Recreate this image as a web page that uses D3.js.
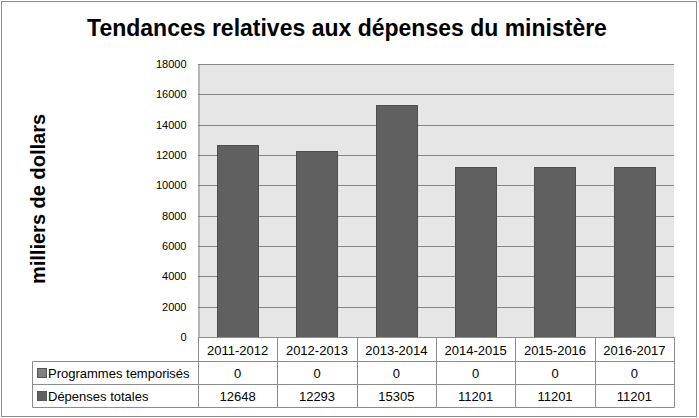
<!DOCTYPE html>
<html>
<head>
<meta charset="utf-8">
<script src="https://cdn.jsdelivr.net/npm/d3@7"></script>
<style>
body { margin:0; background:#fff; }
#c { width:699px; height:418px; }
text { font-family: "Liberation Sans", Arial, sans-serif; }
</style>
</head>
<body>
<div id="c"></div>
<script>
"use strict";

let years = ["2011-2012","2012-2013","2013-2014","2014-2015","2015-2016","2016-2017"]
let programmes = [0,0,0,0,0,0]
let depenses = [12648,12293,15305,11201,11201,11201]
let yTicks = [0,2000,4000,6000,8000,10000,12000,14000,16000,18000]
let rowNames = ["Programmes temporisés","Dépenses totales"]

window.onload = function() {
    drawChart()
}

function drawChart() {
    const W = 699, H = 418
    const plot = {left:198, right:674, top:64, bottom:337}
    const tableLeft = 32
    const rowH = 23.3

    let svg = d3.select('#c').append('svg')
        .attr('width', W).attr('height', H)

    // outer frame
    svg.append('rect')
        .attr('x',1.5).attr('y',1.5)
        .attr('width',W-4).attr('height',H-3)
        .attr('fill','#fff').attr('stroke','#8c8c8c')

    svg.append('text')
        .text('Tendances relatives aux dépenses du ministère')
        .attr('x',347).attr('y',36)
        .attr('text-anchor','middle')
        .style('font-size','23px').style('font-weight','bold')

    svg.append('text')
        .text('milliers de dollars')
        .attr('transform','translate(45,199) rotate(-90)')
        .attr('text-anchor','middle')
        .style('font-size','20px').style('font-weight','bold')

    let xScale = d3.scaleBand().domain(years).range([plot.left, plot.right])
    let yScale = d3.scaleLinear().domain([0,18000]).range([plot.bottom, plot.top])

    svg.append('rect')
        .attr('x',plot.left).attr('y',plot.top)
        .attr('width',plot.right-plot.left).attr('height',plot.bottom-plot.top)
        .attr('fill','#e6e6e6')

    // gridlines
    svg.append('g').selectAll('line')
        .data(yTicks.filter(d=>d>0))
        .enter().append('line')
            .attr('x1',plot.left).attr('x2',plot.right)
            .attr('y1',d=>Math.round(yScale(d))+0.5)
            .attr('y2',d=>Math.round(yScale(d))+0.5)
            .attr('stroke','#868686')

    // y axis
    let yAxis = svg.append('g')
        .attr('transform','translate('+(plot.left+0.5)+',0)')
        .call(d3.axisLeft(yScale).tickValues(yTicks).tickSize(0).tickPadding(12).tickFormat(d3.format('d')))
    yAxis.select('.domain').attr('stroke','#868686')
    yAxis.selectAll('text').style('font-size','11px').style('font-family','"Liberation Sans", Arial, sans-serif').attr('fill','#000')

    // bars
    let bw = xScale.bandwidth()
    svg.append('g').selectAll('rect')
        .data(depenses)
        .enter().append('rect')
            .attr('x',(d,i)=>Math.round(xScale(years[i]) + bw*0.24)+0.5)
            .attr('y',d=>Math.round(yScale(d))+0.5)
            .attr('width',Math.round(bw*0.52))
            .attr('height',d=>Math.round(plot.bottom-yScale(d)))
            .attr('fill','#606060')
            .attr('stroke','#4f4f4f')

    // data table
    let t = svg.append('g').attr('stroke','#8c8c8c').attr('fill','none')
    const y0 = plot.bottom + 0.5
    const y1 = y0 + rowH, y2 = y1 + rowH, y3 = y2 + rowH
    t.append('line').attr('x1',plot.left+0.5).attr('x2',plot.right+0.5).attr('y1',y0).attr('y2',y0)
    t.append('line').attr('x1',tableLeft+0.5).attr('x2',plot.right+0.5).attr('y1',Math.round(y1)+0.5).attr('y2',Math.round(y1)+0.5)
    t.append('line').attr('x1',tableLeft+0.5).attr('x2',plot.right+0.5).attr('y1',Math.round(y2)+0.5).attr('y2',Math.round(y2)+0.5)
    t.append('line').attr('x1',tableLeft+0.5).attr('x2',plot.right+0.5).attr('y1',Math.round(y3)+0.5).attr('y2',Math.round(y3)+0.5)
    t.append('line').attr('x1',tableLeft+0.5).attr('x2',tableLeft+0.5).attr('y1',Math.round(y1)+0.5).attr('y2',Math.round(y3)+0.5)
    years.concat(['end']).forEach((yr,i) => {
        let x = Math.round(yr=='end' ? plot.right : xScale(yr))+0.5
        t.append('line').attr('x1',x).attr('x2',x).attr('y1',y0).attr('y2',Math.round(y3)+0.5)
    })

    let txt = svg.append('g').style('font-size','13px').attr('fill','#000')
    years.forEach((yr,i) => {
        let cx = xScale(yr) + bw/2
        txt.append('text').text(yr).attr('x',cx).attr('y',y0+17).attr('text-anchor','middle')
        txt.append('text').text(programmes[i]).attr('x',cx).attr('y',y1+17).attr('text-anchor','middle')
        txt.append('text').text(depenses[i]).attr('x',cx).attr('y',y2+17).attr('text-anchor','middle')
    })

    let keyColors = ['#808080','#606060']
    rowNames.forEach((name,i) => {
        let ry = y1 + i*rowH
        svg.append('rect')
            .attr('x',37.5).attr('y',Math.round(ry+7)+0.5)
            .attr('width',9).attr('height',9)
            .attr('fill',keyColors[i]).attr('stroke','#555')
        txt.append('text').text(name).attr('x',48).attr('y',ry+17)
    })
}
</script>
</body>
</html>
